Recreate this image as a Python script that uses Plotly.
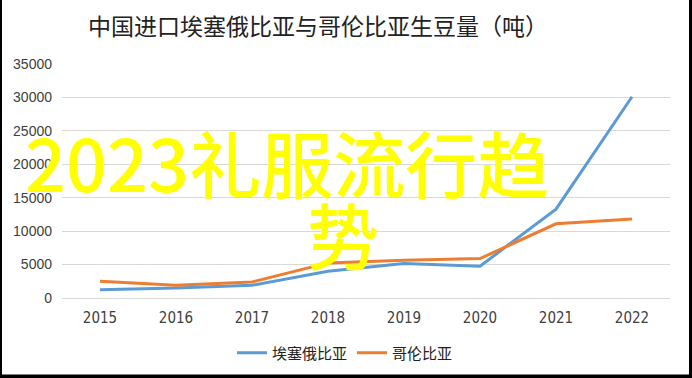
import plotly.graph_objects as go

years = ["2015", "2016", "2017", "2018", "2019", "2020", "2021", "2022"]
ethiopia = [1250, 1500, 1900, 4000, 5150, 4750, 13300, 30100]
colombia = [2500, 1900, 2400, 5250, 5650, 5900, 11100, 11800]
y_ticks = [0, 5000, 10000, 15000, 20000, 25000, 30000, 35000]
title_text = "中国进口埃塞俄比亚与哥伦比亚生豆量（吨）"
watermark_1 = "2023礼服流行趋"
watermark_2 = "势"

W, H = 692, 378
L, R, T, B = 62, 670, 64, 298.4
PW, PH = R - L, B - T

def px(x):
    return (x - L) / PW

def py(y):
    return (B - y) / PH

cjk = "Noto Sans CJK SC, Noto Sans, sans-serif"

fig = go.Figure()
fig.add_trace(go.Scatter(x=years, y=ethiopia, mode="lines", name="埃塞俄比亚",
                         line=dict(color="#5B9BD5", width=3)))
fig.add_trace(go.Scatter(x=years, y=colombia, mode="lines", name="哥伦比亚",
                         line=dict(color="#ED7D31", width=3)))

shapes = [
    dict(type="rect", xref="paper", yref="paper", x0=px(-2), x1=px(2), y0=py(400), y1=py(-10),
         fillcolor="black", line=dict(width=0), layer="above"),
    dict(type="rect", xref="paper", yref="paper", x0=px(689), x1=px(700), y0=py(400), y1=py(-10),
         fillcolor="black", line=dict(width=0), layer="above"),
    dict(type="rect", xref="paper", yref="paper", x0=px(-2), x1=px(700), y0=py(400), y1=py(375),
         fillcolor="black", line=dict(width=0), layer="above"),
]

annotations = [
    dict(text=watermark_1, xref="paper", yref="paper", x=px(287), y=py(161),
         xanchor="center", yanchor="middle", showarrow=False,
         font=dict(family=cjk, size=72, color="#FFFF00", weight=500)),
    dict(text=watermark_2, xref="paper", yref="paper", x=px(343), y=py(233),
         xanchor="center", yanchor="middle", showarrow=False,
         font=dict(family=cjk, size=72, color="#FFFF00", weight=500)),
]

fig.update_layout(
    width=W, height=H,
    margin=dict(l=L, r=W - R, t=T, b=H - B, pad=0, autoexpand=False),
    paper_bgcolor="white", plot_bgcolor="white",
    title=dict(text=title_text, x=318 / W, y=1 - 27 / H, xanchor="center", yanchor="middle",
               font=dict(family=cjk, size=23, color="#222222")),
    xaxis=dict(type="category", range=[-0.5, 7.5], showgrid=False, showline=True,
               linecolor="#D9D9D9", linewidth=1, ticks="", ticklabelstandoff=6,
               tickfont=dict(family="Liberation Sans Narrow, DejaVu Sans Condensed, sans-serif",
                             size=15, color="#404040"), fixedrange=True, automargin=False),
    yaxis=dict(range=[0, 35000], tickvals=y_ticks, ticktext=[str(v) for v in y_ticks],
               showgrid=True, gridcolor="#D9D9D9", gridwidth=1, zeroline=False,
               showline=False, ticks="", ticklabelstandoff=9,
               tickfont=dict(family="Liberation Sans, Arial, sans-serif", size=14, color="#404040"),
               fixedrange=True, automargin=False),
    legend=dict(orientation="h", xref="container", yref="container",
                x=345 / W, y=1 - 353 / H, xanchor="center", yanchor="middle",
                font=dict(family=cjk, size=15, color="#222222"), bgcolor="rgba(0,0,0,0)"),
    showlegend=True,
    shapes=shapes,
    annotations=annotations,
)

fig.write_html("out.html", config={"displayModeBar": False},
               post_script="document.body.style.margin='0';document.body.style.overflow='hidden';")
